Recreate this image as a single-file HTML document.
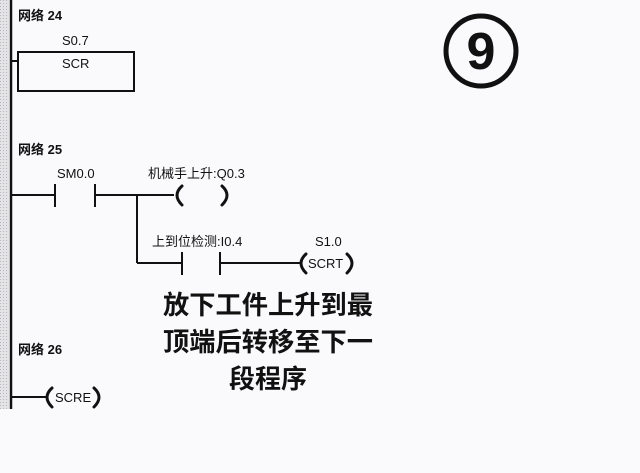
<!DOCTYPE html>
<html><head><meta charset="utf-8"><style>
html,body{margin:0;padding:0;background:#fafafd;}
svg{display:block;}
text{font-family:"Liberation Sans","Noto Sans CJK SC",sans-serif;fill:#111;}
</style></head><body>
<svg width="640" height="473" viewBox="0 0 640 473" xmlns="http://www.w3.org/2000/svg">
<defs><pattern id="dots" width="3" height="3" patternUnits="userSpaceOnUse"><rect width="3" height="3" fill="#e4e4e6"/><rect width="1" height="1" fill="#b8b8bc"/></pattern></defs>
<rect width="640" height="473" fill="#fafafd"/>
<rect x="0" y="0" width="9" height="409" fill="url(#dots)"/>
<line x1="11" y1="0" x2="11" y2="409" stroke="#111" stroke-width="2.5"/>
<g stroke="#111" stroke-width="2" fill="none">
<line x1="11" y1="61" x2="18" y2="61"/>
<rect x="18" y="52" width="116" height="39"/>
<line x1="11" y1="195" x2="55" y2="195"/>
<line x1="55" y1="184" x2="55" y2="207"/>
<line x1="95" y1="184" x2="95" y2="207"/>
<line x1="95" y1="195" x2="174" y2="195"/>
<line x1="137" y1="195" x2="137" y2="263"/>
<line x1="137" y1="263" x2="182" y2="263"/>
<line x1="182" y1="252" x2="182" y2="275"/>
<line x1="220" y1="252" x2="220" y2="275"/>
<line x1="220" y1="263" x2="300" y2="263"/>
<line x1="11" y1="397" x2="46" y2="397"/>
</g>
<g stroke="#111" stroke-width="3" fill="none" stroke-linecap="round">
<path d="M182,186 Q172,195 182,205"/>
<path d="M222,186 Q232,195 222,205"/>
<path d="M306,254 Q296,263 306,273"/>
<path d="M347,254 Q357,263 347,273"/>
<path d="M52,388 Q42,397 52,407"/>
<path d="M94,388 Q104,397 94,407"/>
</g>
<text x="18" y="20" font-size="13" font-weight="bold">网络 24</text>
<text x="62" y="45" font-size="13">S0.7</text>
<text x="62" y="68" font-size="13">SCR</text>
<text x="18" y="154" font-size="13" font-weight="bold">网络 25</text>
<text x="57" y="178" font-size="13">SM0.0</text>
<text x="148" y="178" font-size="13">机械手上升:Q0.3</text>
<text x="152" y="246" font-size="13">上到位检测:I0.4</text>
<text x="315" y="246" font-size="13">S1.0</text>
<text x="308" y="268" font-size="13">SCRT</text>
<text x="18" y="354" font-size="13" font-weight="bold">网络 26</text>
<text x="55" y="402" font-size="13">SCRE</text>
<g font-size="26" font-weight="bold" text-anchor="middle">
<text x="268" y="314" textLength="210" lengthAdjust="spacingAndGlyphs">放下工件上升到最</text>
<text x="268" y="351" textLength="210" lengthAdjust="spacingAndGlyphs">顶端后转移至下一</text>
<text x="268" y="388">段程序</text>
</g>
<circle cx="481" cy="51" r="35" stroke="#111" stroke-width="5" fill="none"/>
<text x="481" y="69" font-size="52" font-weight="bold" text-anchor="middle">9</text>
</svg>
</body></html>
